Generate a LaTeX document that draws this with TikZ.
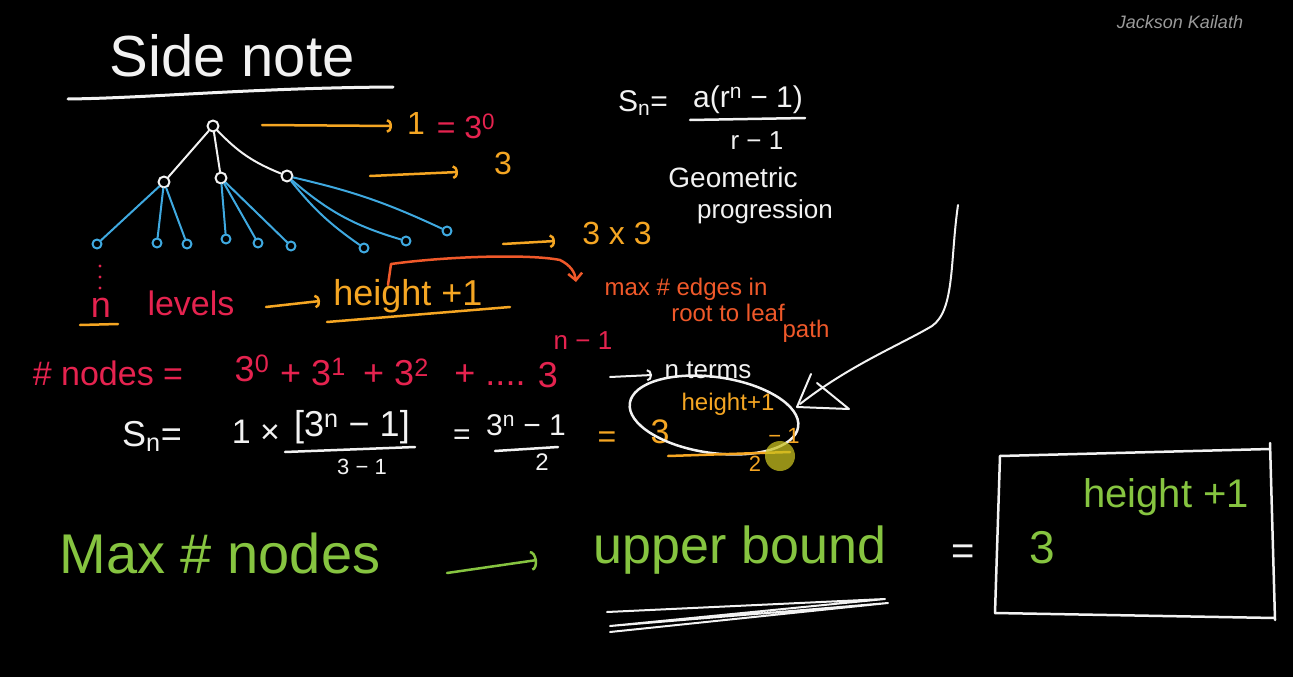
\documentclass[tikz,border=0pt]{standalone}
\usepackage{fontspec}
\setmainfont{Liberation Sans}
\usetikzlibrary{arrows.meta,shapes.geometric}
\definecolor{wht}{HTML}{F2F2F2}
\definecolor{org}{HTML}{F5A623}
\definecolor{pnk}{HTML}{E5234F}
\definecolor{blu}{HTML}{3FA9E0}
\definecolor{rdo}{HTML}{F0592A}
\definecolor{grn}{HTML}{86C440}
\definecolor{gry}{HTML}{9A9A9A}
\definecolor{ylw}{HTML}{C8C020}
\newcommand\hfs[1]{\fontsize{#1}{#1}\selectfont}
\tikzset{
  txt/.style={inner sep=0pt, outer sep=0pt},
  nd/.style={circle, draw=wht, line width=2pt, minimum size=11pt, inner sep=0pt},
  lf/.style={circle, draw=blu, line width=2pt, minimum size=9pt, inner sep=0pt},
  wedge/.style={wht, line width=2pt},
  bedge/.style={blu, line width=2pt},
  oarr/.style={org, line width=2.5pt, -{Arc Barb[length=5pt,width=14pt]}},
  warr/.style={wht, line width=2pt, -{Arc Barb[length=5pt,width=12pt]}},
  garr/.style={grn, line width=2.5pt, -{Arc Barb[length=6pt,width=20pt]}},
  pen/.style={line width=2.5pt},
}
\begin{document}
\begin{tikzpicture}[x=1pt,y=-1pt, line cap=round, line join=round]
\fill[black] (0,0) rectangle (1293,677);
\useasboundingbox (0,0) rectangle (1293,677);

% watermark
\node[txt, gry, font=\hfs{18}\itshape] (wm) at (1180,22) {Jackson Kailath};

% title
\node[txt, wht, font=\hfs{58}] (title) at (232,56) {Side note};
\draw[wht, line width=3pt] (68,99) .. controls (150,98) and (250,88) .. (393,87);

% tree
\node[nd] (r) at (213,126) {};
\node[nd] (c1) at (164,182) {};
\node[nd] (c2) at (221,178) {};
\node[nd] (c3) at (287,176) {};
\foreach \n/\x/\y in {l1/97/244, l2/157/243, l3/187/244, l4/226/239, l5/258/243, l6/291/246, l7/364/248, l8/406/241, l9/447/231}
  \node[lf] (\n) at (\x,\y) {};
\draw[wedge] (r) -- (c1);
\draw[wedge] (r) -- (c2);
\draw[wedge] (r) to[bend right=12] (c3);
\draw[bedge] (c1) -- (l1);
\draw[bedge] (c1) -- (l2);
\draw[bedge] (c1) -- (l3);
\draw[bedge] (c2) -- (l4);
\draw[bedge] (c2) -- (l5);
\draw[bedge] (c2) -- (l6);
\draw[bedge] (c3) to[bend right=8] (l7);
\draw[bedge] (c3) to[bend right=12] (l8);
\draw[bedge] (c3) to[bend left=6] (l9);

% level arrows
\coordinate (a1s) at (262,125); \coordinate (a1e) at (392,126);
\draw[oarr] (a1s) -- (a1e);
\node[txt, org, font=\hfs{32}] (one) at (416,123) {1};
\node[txt, pnk, font=\hfs{32}] (eq30) at (466,126) {= 3\textsuperscript{0}};
\coordinate (a2s) at (370,176); \coordinate (a2e) at (458,172);
\draw[oarr] (a2s) -- (a2e);
\node[txt, org, font=\hfs{32}] (three) at (503,163) {3};
\coordinate (a3s) at (503,244); \coordinate (a3e) at (555,241);
\draw[oarr] (a3s) -- (a3e);
\node[txt, org, font=\hfs{32}] (threex) at (617,233) {3 x 3};

% n levels
\foreach \yy in {266,277,288} \fill[pnk] (100,\yy) circle (1.6pt);
\node[txt, pnk, font=\hfs{36}] (nn) at (101,308) {n};
\draw[org, pen] (80,325) -- (118,324);
\node[txt, pnk, font=\hfs{34}] (lev) at (191,303) {levels};
\coordinate (a4s) at (266,307); \coordinate (a4e) at (320,301);
\draw[oarr] (a4s) -- (a4e);
\node[txt, org, font=\hfs{36}] (hp1) at (408,296) {height +1};
\draw[org, pen] (327,322) -- (510,307);

% max edges bracket
\coordinate (bs) at (388,285);
\coordinate (be) at (576,282);
\draw[rdo, pen, -{Straight Barb[length=7pt,width=14pt]}] (bs) -- (391,264) .. controls (450,256) and (530,254) .. (560,260) .. controls (570,265) and (575,272) .. (be);
\node[txt, rdo, font=\hfs{24}] (mx) at (686,289) {max \# edges in};
\node[txt, rdo, font=\hfs{24}] (rl) at (728,313) {root to leaf};
\node[txt, rdo, font=\hfs{24}] (pth) at (806,331) {path};

% GP formula
\node[txt, wht, font=\hfs{30}] (gS) at (643,103) {S\textsubscript{n}=};
\node[txt, wht, font=\hfs{30}] (gnum) at (748,100) {a(r\textsuperscript{n} − 1)};
\draw[wht, pen] (690,120) -- (805,118);
\node[txt, wht, font=\hfs{26}] (gden) at (757,141) {r − 1};
\node[txt, wht, font=\hfs{28}] (geo) at (733,177) {Geometric};
\node[txt, wht, font=\hfs{26}] (prog) at (765,212) {progression};

% nodes sum
\node[txt, pnk, font=\hfs{34}] (ns) at (108,373) {\# nodes =};
\node[txt, pnk, font=\hfs{36}] (t0) at (252,368) {3\textsuperscript{0}};
\node[txt, pnk, font=\hfs{36}] (t1) at (313,372) {+ 3\textsuperscript{1}};
\node[txt, pnk, font=\hfs{36}] (t2) at (396,372) {+ 3\textsuperscript{2}};
\node[txt, pnk, font=\hfs{36}] (t3) at (490,375) {+ ....};
\node[txt, pnk, font=\hfs{36}] (t4) at (548,375) {3};
\node[txt, pnk, font=\hfs{26}] (t3e) at (583,341) {n − 1};
\coordinate (nts) at (610,377); \coordinate (nte) at (652,375);
\draw[warr] (nts) -- (nte);
\node[txt, wht, font=\hfs{26}] (nt) at (708,370) {n terms};

% Sn line
\node[txt, wht, font=\hfs{36}] (s2) at (152,436) {S\textsubscript{n}=};
\node[txt, wht, font=\hfs{34}] (onex) at (256,432) {1 ×};
\node[txt, wht, font=\hfs{36}] (br) at (352,427) {[3\textsuperscript{n} − 1]};
\draw[wht, pen] (285,452) -- (415,447);
\node[txt, wht, font=\hfs{22}] (d31) at (362,467) {3 − 1};
\node[txt, wht, font=\hfs{30}] (eq2) at (462,437) {=};
\node[txt, wht, font=\hfs{30}] (num2) at (526,425) {3\textsuperscript{n} − 1};
\draw[wht, pen] (495,451) -- (558,447);
\node[txt, wht, font=\hfs{24}] (d2) at (542,462) {2};
\node[txt, org, font=\hfs{32}] (eq3) at (607,440) {=};
\node[txt, org, font=\hfs{34}] (h3) at (660,432) {3};
\node[txt, org, font=\hfs{24}] (hexp) at (728,404) {height+1};
\draw[wht, pen, rotate around={-8:(714,415)}] (714,415) ellipse [x radius=85pt, y radius=38pt];
\draw[org, pen] (668,456) -- (790,452);
\node[txt, org, font=\hfs{22}] (m1) at (784,436) {− 1};
\node[txt, org, font=\hfs{22}] (two) at (755,464) {2};
\fill[ylw, opacity=0.75] (780,456) circle (15pt);

% big arrow
\draw[wht, line width=2pt] (958,205) .. controls (950,260) and (955,310) .. (932,326) .. controls (900,345) and (850,365) .. (800,404);
\draw[wht, line width=2pt] (811,374) -- (797,407) -- (849,409) -- (817,383);

% bottom
\node[txt, grn, font=\hfs{56}] (mxn) at (220,553) {Max \# nodes};
\coordinate (gas) at (447,573); \coordinate (gae) at (537,560);
\draw[garr] (gas) -- (gae);
\node[txt, grn, font=\hfs{52}] (ub) at (740,550) {upper bound};
\draw[wht, line width=2pt] (607,612) -- (885,599) -- (610,626) -- (888,603) -- (610,632);
\node[txt, wht, font=\hfs{40}] (eq4) at (963,555) {=};
\draw[wht, line width=2.5pt] (1000,456) -- (1270,449);
\draw[wht, line width=2.5pt] (1270,443) -- (1275,620);
\draw[wht, line width=2.5pt] (995,613) -- (1275,618);
\draw[wht, line width=2.5pt] (1000,456) -- (995,613);
\node[txt, grn, font=\hfs{46}] (b3) at (1042,548) {3};
\node[txt, grn, font=\hfs{40}] (bh) at (1166,497) {height +1};
\end{tikzpicture}
\end{document}
